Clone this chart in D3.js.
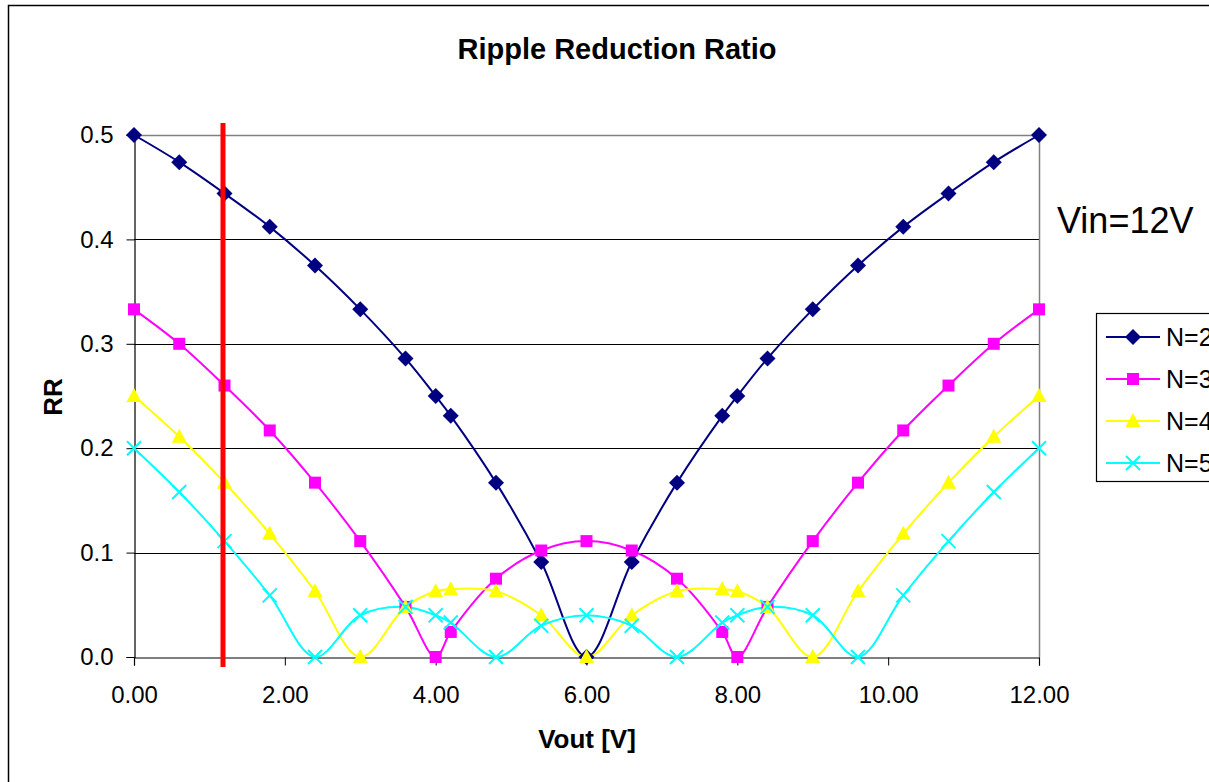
<!DOCTYPE html>
<html>
<head>
<meta charset="utf-8">
<script src="https://cdn.jsdelivr.net/npm/d3@7"></script>
<style>
  body { margin: 0; background: #fff; }
  svg { display: block; font-family: "Liberation Sans", Arial, sans-serif; }
</style>
</head>
<body>
<script>
// Vout points (V)
var vout = [0, 0.6, 1.2, 1.8, 2.4, 3.0, 3.6, 4.0, 4.2, 4.8, 5.4, 6.0,
            6.6, 7.2, 7.8, 8.0, 8.4, 9.0, 9.6, 10.2, 10.8, 11.4, 12.0]

var rrN2 = [0.5, 0.474, 0.444, 0.412, 0.375, 0.333, 0.286, 0.25, 0.231, 0.167, 0.091, 0,
            0.091, 0.167, 0.231, 0.25, 0.286, 0.333, 0.375, 0.412, 0.444, 0.474, 0.5]
var rrN3 = [0.333, 0.3, 0.26, 0.217, 0.167, 0.111, 0.048, 0, 0.024, 0.075, 0.102, 0.111,
            0.102, 0.075, 0.024, 0, 0.048, 0.111, 0.167, 0.217, 0.26, 0.3, 0.333]
var rrN4 = [0.25, 0.211, 0.167, 0.118, 0.063, 0, 0.048, 0.063, 0.065, 0.063, 0.04, 0,
            0.04, 0.063, 0.065, 0.063, 0.048, 0, 0.063, 0.118, 0.167, 0.211, 0.25]
var rrN5 = [0.2, 0.158, 0.111, 0.059, 0, 0.04, 0.048, 0.04, 0.033, 0, 0.03, 0.04,
            0.03, 0, 0.033, 0.04, 0.048, 0.04, 0, 0.059, 0.111, 0.158, 0.2]

var seriesNames = ["N=2", "N=3", "N=4", "N=5"]
var xTicks = [0, 2, 4, 6, 8, 10, 12]
var yTicks = [0, 0.1, 0.2, 0.3, 0.4, 0.5]
var markerLine = 1.18   // red marker at Vout

var W = 1209, H = 782
var plot = {left: 134, top: 135, right: 1039, bottom: 657}

var series = [
  {name: seriesNames[0], values: rrN2, color: "#000080", shape: "diamond"},
  {name: seriesNames[1], values: rrN3, color: "#ff00ff", shape: "square"},
  {name: seriesNames[2], values: rrN4, color: "#ffff00", shape: "triangle"},
  {name: seriesNames[3], values: rrN5, color: "#00ffff", shape: "cross"}
]

var svg = d3.select("body").append("svg")
    .attr("width", W)
    .attr("height", H)

// outer chart border
svg.append("rect")
    .attr("x", 8.5).attr("y", 5.5)
    .attr("width", W + 20).attr("height", H + 20)
    .attr("fill", "#fff").attr("stroke", "#000").attr("stroke-width", 1.5)

var x = d3.scaleLinear().domain([0, 12]).range([plot.left, plot.right])
var y = d3.scaleLinear().domain([0, 0.5]).range([plot.bottom, plot.top])

// gridlines
svg.append("g").selectAll("line")
    .data(yTicks.filter(function(d) { return d > 0 && d < 0.5 }))
    .enter().append("line")
    .attr("x1", plot.left).attr("x2", plot.right)
    .attr("y1", function(d) { return Math.round(y(d)) + 0.5 })
    .attr("y2", function(d) { return Math.round(y(d)) + 0.5 })
    .attr("stroke", "#000").attr("stroke-width", 1)

// plot area frame (top/right gray)
svg.append("path")
    .attr("d", "M" + plot.left + "," + (plot.top + 0.5) + "H" + (plot.right + 0.5) + "V" + plot.bottom)
    .attr("fill", "none").attr("stroke", "#808080").attr("stroke-width", 1.5)

// axes
var xAxis = svg.append("g")
    .attr("transform", "translate(0," + (plot.bottom + 0.5) + ")")
    .call(d3.axisBottom(x).tickValues(xTicks).tickSize(8).tickPadding(20)
      .tickFormat(d3.format(".2f")))
var yAxis = svg.append("g")
    .attr("transform", "translate(" + (plot.left + 0.5) + ",0)")
    .call(d3.axisLeft(y).tickValues(yTicks).tickSize(8).tickPadding(13)
      .tickFormat(d3.format(".1f")))

;[xAxis, yAxis].forEach(function(a) {
  a.select(".domain").attr("stroke", "#000").attr("stroke-width", 1.2)
  a.selectAll(".tick line").attr("stroke", "#000")
  a.selectAll("text").attr("font-size", 24).attr("fill", "#000")
    .style("font-family", "'Liberation Sans', Arial, sans-serif")
})
yAxis.selectAll(".tick text").attr("dy", "0.32em")

// lines
var line = d3.line()
    .x(function(d) { return x(d[0]) })
    .y(function(d) { return y(d[1]) })
    .curve(d3.curveCatmullRom)

function drawMarker(g, shape, color) {
  if (shape == "diamond") {
    g.append("path").attr("d", "M0,-8L8,0L0,8L-8,0Z").attr("fill", color)
  } else if (shape == "square") {
    g.append("rect").attr("x", -6).attr("y", -6).attr("width", 12).attr("height", 12).attr("fill", color)
  } else if (shape == "triangle") {
    g.append("path").attr("d", "M0,-8L7.5,6L-7.5,6Z").attr("fill", color)
  } else {
    g.append("path").attr("d", "M-7,-7L7,7M-7,7L7,-7")
      .attr("stroke", color).attr("stroke-width", 2).attr("fill", "none")
  }
}

series.forEach(function(s) {
  var pts = vout.map(function(v, i) { return [v, s.values[i]] })
  svg.append("path")
      .datum(pts)
      .attr("d", line)
      .attr("fill", "none")
      .attr("stroke", s.color)
      .attr("stroke-width", 2)
  s.pts = pts
})

series.forEach(function(s) {
  svg.append("g").selectAll("g")
      .data(s.pts)
      .enter().append("g")
      .attr("transform", function(d) { return "translate(" + x(d[0]) + "," + y(d[1]) + ")" })
      .each(function() { drawMarker(d3.select(this), s.shape, s.color) })
})

// red marker line
svg.append("line")
    .attr("x1", x(markerLine)).attr("x2", x(markerLine))
    .attr("y1", 123).attr("y2", 667)
    .attr("stroke", "#ff0000").attr("stroke-width", 5)

// titles
svg.append("text")
    .attr("x", 617).attr("y", 59)
    .attr("text-anchor", "middle")
    .attr("font-size", 29).attr("font-weight", "bold")
    .text("Ripple Reduction Ratio")

svg.append("text")
    .attr("x", 587).attr("y", 748)
    .attr("text-anchor", "middle")
    .attr("font-size", 26).attr("font-weight", "bold")
    .text("Vout [V]")

svg.append("text")
    .attr("transform", "translate(62,397) rotate(-90)")
    .attr("text-anchor", "middle")
    .attr("font-size", 26).attr("font-weight", "bold")
    .text("RR")

svg.append("text")
    .attr("x", 1057).attr("y", 233)
    .attr("font-size", 36)
    .text("Vin=12V")

// legend
var legend = svg.append("g")
legend.append("rect")
    .attr("x", 1096.5).attr("y", 313.5)
    .attr("width", 140).attr("height", 168)
    .attr("fill", "#fff").attr("stroke", "#000").attr("stroke-width", 1.2)

var item = legend.selectAll(".item")
    .data(series)
    .enter().append("g")
    .attr("class", "item")
    .attr("transform", function(d, i) { return "translate(0," + (337 + i * 42) + ")" })

item.append("line")
    .attr("x1", 1106).attr("x2", 1160)
    .attr("stroke", function(d) { return d.color })
    .attr("stroke-width", 2)
item.append("g")
    .attr("transform", "translate(1133,0)")
    .each(function(d) { drawMarker(d3.select(this), d.shape, d.color) })
item.append("text")
    .attr("x", 1166).attr("dy", "0.36em")
    .attr("font-size", 25)
    .text(function(d) { return d.name })
</script>
</body>
</html>
